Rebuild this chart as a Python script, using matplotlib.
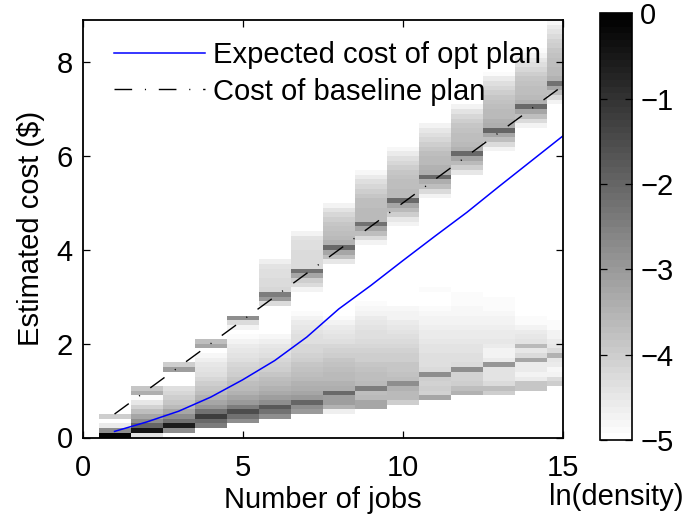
import numpy as np
import matplotlib
matplotlib.use("Agg")
import matplotlib.pyplot as plt

plt.rcParams["font.family"] = ["Liberation Sans", "DejaVu Sans"]
plt.rcParams["font.size"] = 21
plt.rcParams["lines.scale_dashes"] = False

# ---------------------------------------------------------------- data
jobs = [1, 2, 3, 4, 5, 6, 7, 8, 9, 10, 11, 12, 13, 14, 15]
opt_expected_cost = [0.13, 0.33, 0.56, 0.86, 1.23, 1.64, 2.14, 2.74, 3.24,
                     3.77, 4.29, 4.80, 5.35, 5.89, 6.43]
baseline_cost = [0.5, 1.0, 1.5, 2.0, 2.5, 3.0, 3.5, 4.0, 4.5, 5.0, 5.5,
                 6.0, 6.5, 7.0, 7.5]

cost_bin = 0.1          # $ per histogram row
n_bins = 90

# ln(density) per cost bin, for each number of jobs: a low cluster (actual
# cost of the optimised plan) and a high cluster (around the baseline cost).
nan = np.nan
low_start = [0, 0, 1, 2, 3, 4, 5, 5, 6, 7, 8, 9, 9, 10, 11]
high_start = [4, 9, 14, 19, 23, 28, 31, 37, 41, 45, 51, 56, 61, 66, 71]

low_01 = [-0.1, -2.8, -4.6]
low_02 = [-4.4, -0.4, -2.0, -2.75, -3.25, -3.75, -4.1, -4.5, -4.85]
low_03 = [-2.75, -0.6, -2.25, -2.75, -3.25, -3.6, -3.9, -4.0, -4.15, -4.3]
low_04 = [-2.5, -2.1, -1.25, -2.25, -2.9, -3.25, -3.5, -3.7, -3.9, -4.0,
          -4.15, -4.3, -4.4, -4.5, -4.65, -4.8]
low_05 = [-2.75, -2.25, -1.5, -2.5, -3.0, -3.25, -3.5, -3.6, -3.75, -3.9,
          -4.0, -4.1, -4.2, -4.3, -4.4, -4.5, -4.6, -4.75, -4.85]
low_06 = [-2.75, -2.25, -1.75, -2.75, -3.1, -3.3, -3.5, -3.6, -3.75, -3.85,
          -4.0, -4.1, -4.2, -4.3, -4.4, -4.5, -4.65, -4.8]
low_07 = [-3.0, -2.75, -2.0, -3.0, -3.25, -3.4, -3.5, -3.6, -3.7, -3.8,
          -3.9, -4.0, -4.1, -4.15, -4.2, -4.3, -4.35, -4.4, -4.5, -4.6,
          -4.7, -4.85]
low_08 = [-4.65, -3.5, -3.1, -3.1, -2.1, -3.4, -3.5, -3.6, -3.65, -3.75,
          -3.8, -3.9, -4.0, -4.1, -4.2, -4.3, -4.4, -4.5, -4.6, -4.7, -4.85]
low_09 = [-3.25, -3.25, -3.6, -3.7, -2.5, -3.6, -3.7, -3.75, -3.8, -3.9,
          -4.0, -4.05, -4.1, -4.2, -4.25, -4.3, -4.35, -4.4, -4.5, -4.6,
          -4.7, -4.8, -4.85]
low_10 = [-4.0, -3.6, -3.6, -3.5, -2.75, -3.75, -3.8, -3.85, -3.9, -4.0,
          -4.05, -4.1, -4.15, -4.25, -4.3, -4.4, -4.5, -4.6, -4.7, -4.75,
          -4.8]
low_11 = [-3.25, -4.1, -4.0, -4.1, -4.0, -2.75, -4.25, -4.3, -4.3, -4.35,
          -4.4, -4.45, -4.5, -4.55, -4.6, -4.65, -4.7, -4.75, -4.8, -4.85,
          nan, nan, nan, -4.9]
low_12 = [-3.5, -3.75, -4.0, -4.1, -4.1, -2.75, -4.25, -4.3, -4.35, -4.4,
          -4.45, -4.5, -4.55, -4.6, -4.65, -4.7, -4.75, -4.8, -4.8, -4.85,
          -4.9, -4.9]
low_13 = [-4.0, -3.75, -4.25, -4.4, -4.4, -4.4, -2.9, -4.6, -4.75, -4.75,
          -4.6, -4.5, -4.55, -4.6, -4.65, -4.7, -4.75, -4.8, -4.85, -4.9,
          -4.9, -4.95]
low_14 = [-3.9, -3.9, -4.6, -4.75, -4.6, -4.6, -3.25, -4.25, -4.5, -3.6,
          -4.4, -4.5, -4.6, -4.75, -4.85, -4.9]
low_15 = [-4.0, -4.25, -4.75, -4.8, -4.6, -4.5, -3.5, -4.25, -4.5, -4.6,
          -4.7, -4.75, -4.85, -4.9]

high_01 = [-4.0]
high_02 = [-3.4, -3.9]
high_03 = [-3.1, -4.0]
high_04 = [-3.25, -3.75]
high_05 = [-4.75, -4.25, -2.75]
high_06 = [-4.25, -3.0, -2.5, -4.15, -4.25, -4.25, -4.3, -4.35, -4.4, -4.65]
high_07 = [-4.75, -4.25, -4.0, -3.25, -2.25, -4.25, -4.25, -4.25, -4.25,
           -4.3, -4.3, -4.4, -4.75]
high_08 = [-4.5, -3.75, -3.25, -2.1, -3.5, -3.6, -3.7, -3.8, -3.9, -4.0,
           -4.15, -4.4, -4.75]
high_09 = [-4.75, -4.25, -3.75, -3.25, -2.25, -3.6, -3.6, -3.65, -3.7,
           -3.75, -3.85, -4.0, -4.15, -4.35, -4.6, -4.8]
high_10 = [-4.75, -4.5, -4.0, -3.6, -3.25, -2.1, -3.6, -3.65, -3.7, -3.75,
           -3.8, -3.9, -4.0, -4.15, -4.35, -4.6, -4.8]
high_11 = [-4.75, -4.25, -3.75, -3.4, -2.1, -3.4, -3.5, -3.6, -3.65, -3.75,
           -3.85, -4.0, -4.15, -4.3, -4.5, -4.75]
high_12 = [-4.5, -4.0, -3.6, -3.25, -2.1, -3.5, -3.6, -3.7, -3.75, -3.8,
           -3.9, -4.0, -4.2, -4.4, -4.7]
high_13 = [-4.75, -4.25, -3.75, -3.25, -2.0, -3.4, -3.5, -3.6, -3.65, -3.7,
           -3.8, -3.9, -4.0, -4.15, -4.35, -4.6, -4.85]
high_14 = [-4.75, -4.25, -3.75, -3.25, -2.1, -3.5, -3.6, -3.7, -3.75, -3.8,
           -3.9, -4.0, -4.15, -4.3, -4.5, -4.7, -4.85]
high_15 = [-4.75, -4.25, -3.75, -3.25, -2.25, -3.5, -3.6, -3.65, -3.7,
           -3.75, -3.8, -3.9, -4.0, -4.1, -4.25, -4.4, -4.6, -4.8]

low_cols = [low_01, low_02, low_03, low_04, low_05, low_06, low_07, low_08,
            low_09, low_10, low_11, low_12, low_13, low_14, low_15]
high_cols = [high_01, high_02, high_03, high_04, high_05, high_06, high_07,
             high_08, high_09, high_10, high_11, high_12, high_13, high_14,
             high_15]

# ---------------------------------------------------------------- grid
density = np.full((n_bins, len(jobs)), np.nan)
for c in range(len(jobs)):
    for start, seg in ((low_start[c], low_cols[c]), (high_start[c], high_cols[c])):
        density[start:start + len(seg), c] = seg

x_edges = np.arange(len(jobs) + 1) + 0.5
y_edges = np.arange(n_bins + 1) * cost_bin

# ---------------------------------------------------------------- figure
W, H = 684, 518
fig = plt.figure(figsize=(W / 100, H / 100), dpi=100)
ax = fig.add_axes([82.5 / W, 1 - 437.5 / H, (563 - 82.5) / W, (437.5 - 20) / H])
cax = fig.add_axes([600 / W, 1 - 440 / H, 31.7 / W, (440 - 13.3) / H])

cmap = plt.get_cmap("gray_r", 64).copy()
cmap.set_bad("white")
mesh = ax.pcolormesh(x_edges, y_edges, np.ma.masked_invalid(density),
                     cmap=cmap, vmin=-5, vmax=0, shading="flat")

ax.plot(jobs, opt_expected_cost, color=(0, 0, 1), lw=1.1,
        label="Expected cost of opt plan")
ax.plot(jobs, baseline_cost, color="black", lw=1.0,
        dashes=(12.7, 9.2, 0.8, 9.2), label="Cost of baseline plan")

ax.set_xlim(0, 15)
ax.set_ylim(0, 8.9)
ax.set_xticks([0, 5, 10, 15])
ax.set_yticks([0, 2, 4, 6, 8])
ax.tick_params(direction="in", top=True, right=True, length=5, width=0.9)
ax.tick_params(axis="x", pad=12)
ax.tick_params(axis="y", pad=7)
for s in ax.spines.values():
    s.set_linewidth(1.3)

ax.set_xlabel("Number of jobs", labelpad=3)
ax.set_ylabel("Estimated cost ($)", labelpad=8)

ax.legend(loc="upper left", bbox_to_anchor=(0.066, 0.95), frameon=False,
          handlelength=3.1, handletextpad=0.3, labelspacing=0.3,
          borderaxespad=0, borderpad=0)

cb = fig.colorbar(mesh, cax=cax, ticks=[0, -1, -2, -3, -4, -5])
cb.outline.set_linewidth(1.2)
cax.tick_params(direction="in", left=True, right=True, length=5, width=0.9, pad=6)
cax.set_xlabel("ln(density)", labelpad=31)

fig.savefig("out.png", dpi=100)
